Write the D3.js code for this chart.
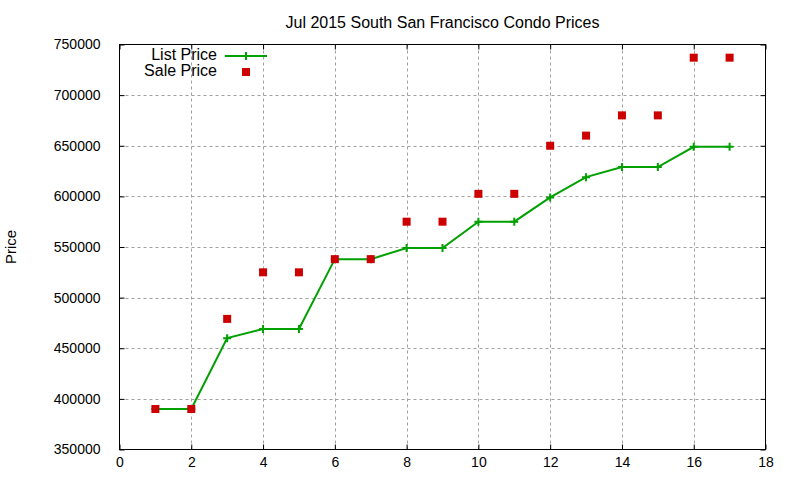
<!DOCTYPE html>
<html><head><meta charset="utf-8">
<script src="https://cdn.jsdelivr.net/npm/d3@7"></script>
<style>body{margin:0;background:#fff}svg{display:block}text{font-family:"Liberation Sans",Arial,sans-serif;}</style>
</head><body>
<svg id="c" width="800" height="480"></svg>
<script>
const xValues = [1,2,3,4,5,6,7,8,9,10,11,12,13,14,15,16,17];
const listPrice = [390000,390000,460000,469000,469000,538000,538000,549000,549000,575000,575000,599000,619000,629000,629000,649000,649000];
const salePrice = [390000,390000,479000,525000,525000,538000,538000,575000,575000,602500,602500,650000,660000,680000,680000,737000,737000];
const xTicks = [0,2,4,6,8,10,12,14,16,18];
const yTicks = [350000,400000,450000,500000,550000,600000,650000,700000,750000];
const title = "Jul 2015 South San Francisco Condo Prices";
const seriesNames = ["List Price","Sale Price"];

const svg = d3.select("#c");
const L=119.5, R=765.5, T=44.5, B=449.5;
const x = d3.scaleLinear().domain([0,18]).range([L,R]);
const y = d3.scaleLinear().domain([350000,750000]).range([B,T]);
const green="#00a000", red="#cc0000";

// grid
const g = svg.append("g");
g.selectAll(".vg").data(xTicks.filter(d=>d>0&&d<18)).enter().append("line")
 .attr("x1",d=>Math.round(x(d))+0.5).attr("x2",d=>Math.round(x(d))+0.5).attr("y1",T).attr("y2",B)
 .attr("stroke","#a0a0a0").attr("stroke-dasharray","3,3");
g.selectAll(".hg").data(yTicks.filter(d=>d>350000&&d<750000)).enter().append("line")
 .attr("y1",d=>Math.round(y(d))+0.5).attr("y2",d=>Math.round(y(d))+0.5).attr("x1",L).attr("x2",R)
 .attr("stroke","#a0a0a0").attr("stroke-dasharray","3,3");

// axes
const xb = d3.axisBottom(x).tickValues(xTicks).tickSize(-5).tickPadding(8).tickFormat(d3.format("d"));
const xt = d3.axisTop(x).tickValues(xTicks).tickSize(-5).tickFormat("");
const yl = d3.axisLeft(y).tickValues(yTicks).tickSize(-5).tickPadding(19).tickFormat(d3.format("d"));
const yr = d3.axisRight(y).tickValues(yTicks).tickSize(-5).tickFormat("");
function style(sel){sel.select(".domain").remove();sel.selectAll("line").attr("stroke","#000");sel.selectAll("text").attr("fill","#000").style("font-size","14px").style("font-family","'Liberation Sans',Arial,sans-serif");}
svg.append("g").attr("transform",`translate(0,${B})`).call(xb).call(style).selectAll("text").attr("dy","0.71em");
svg.append("g").attr("transform",`translate(0,${T})`).call(xt).call(style);
svg.append("g").attr("transform",`translate(${L},0)`).call(yl).call(style);
svg.append("g").attr("transform",`translate(${R},0)`).call(yr).call(style);
svg.append("rect").attr("x",L).attr("y",T).attr("width",R-L).attr("height",B-T).attr("fill","none").attr("stroke","#000");

// title and label
svg.append("text").attr("x",(L+R)/2).attr("y",28).attr("text-anchor","middle").style("font-size","16px").text(title);
svg.append("text").attr("transform","translate(16,247) rotate(-90)").attr("text-anchor","middle").style("font-size","15px").text("Price");

// list line
const line = d3.line().x((d,i)=>x(xValues[i])).y(d=>y(d));
svg.append("path").datum(listPrice).attr("d",line).attr("fill","none").attr("stroke",green).attr("stroke-width",2);
svg.selectAll(".pl").data(listPrice).enter().append("path")
 .attr("d",(d,i)=>`M${x(xValues[i])-4},${y(d)}h8M${x(xValues[i])},${y(d)-4}v8`)
 .attr("stroke",green).attr("stroke-width",2);
svg.selectAll(".sq").data(salePrice).enter().append("rect")
 .attr("x",(d,i)=>x(xValues[i])-4).attr("y",d=>y(d)-4).attr("width",8).attr("height",8).attr("fill",red);

// legend
svg.append("text").attr("x",217).attr("y",60).attr("text-anchor","end").style("font-size","16px").text(seriesNames[0]);
svg.append("text").attr("x",217).attr("y",76).attr("text-anchor","end").style("font-size","16px").text(seriesNames[1]);
svg.append("line").attr("x1",225).attr("x2",267).attr("y1",56).attr("y2",56).attr("stroke",green).attr("stroke-width",2);
svg.append("path").attr("d","M246,52v8").attr("stroke",green).attr("stroke-width",2);
svg.append("rect").attr("x",242).attr("y",68).attr("width",8).attr("height",8).attr("fill",red);
</script>
</body></html>
